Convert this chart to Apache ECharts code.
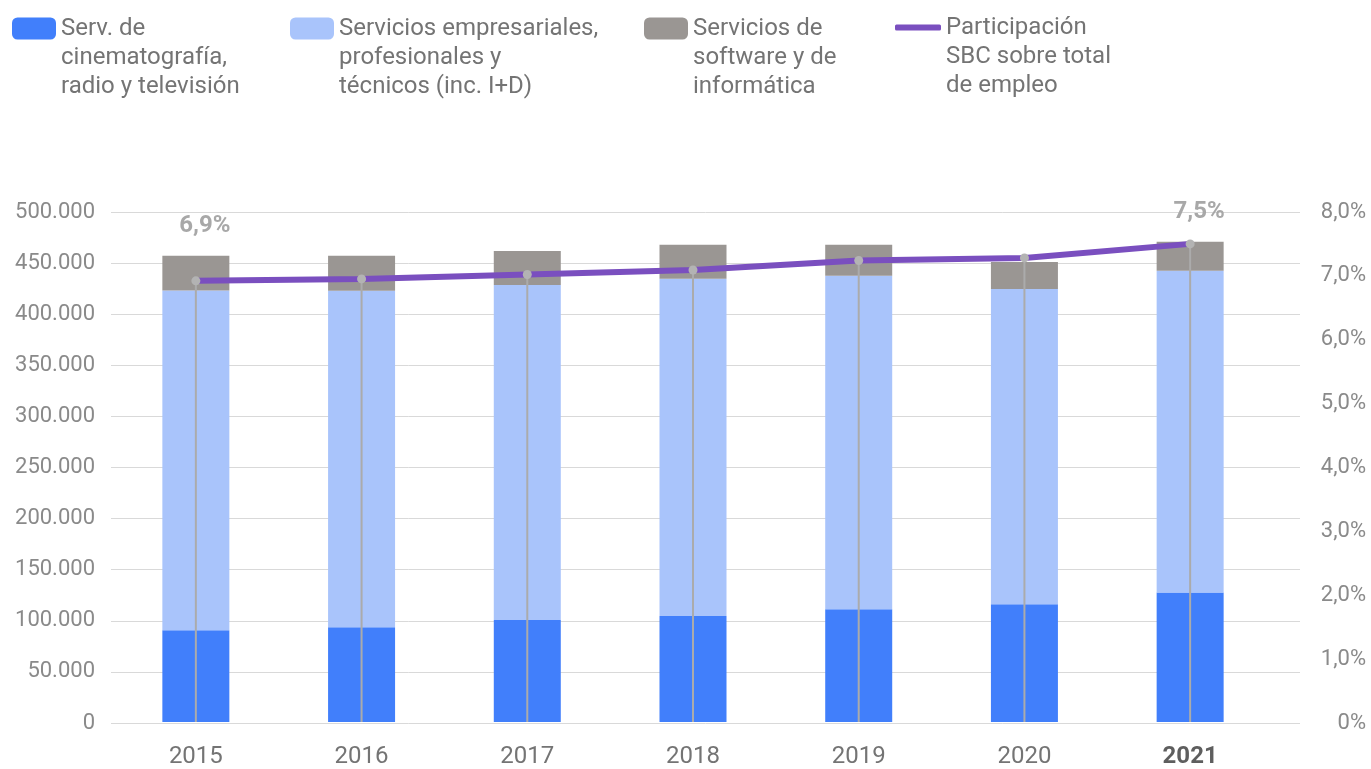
<!DOCTYPE html>
<html>
<head>
<meta charset="utf-8">
<script src="https://cdn.jsdelivr.net/npm/echarts@6/dist/echarts.min.js"></script>
<style>
  html, body { margin: 0; padding: 0; background: #fff; }
  #chart { width: 1371px; height: 769px; }
</style>
</head>
<body>
<div id="chart"></div>
<script>
// Categories (years)
var years = ['2015', '2016', '2017', '2018', '2019', '2020', '2021'];
// Employment by sector (stacked)
var cine = [90000, 93000, 100000, 104000, 110500, 115500, 127000];
var empresariales = [333000, 329700, 328500, 330500, 327000, 309000, 315500];
var software = [34000, 34300, 33300, 33300, 30300, 26400, 28400];
// Share of SBC over total employment (%)
var sbcShare = [6.92, 6.95, 7.02, 7.09, 7.24, 7.28, 7.50];
// Years that carry a share label
var labelledYears = [0, 6];

var seriesNames = [
    'Serv. de\ncinematografía,\nradio y televisión',
    'Servicios empresariales,\nprofesionales y\ntécnicos (inc. I+D)',
    'Servicios de\nsoftware y de\ninformática',
    'Participación\nSBC sobre total\nde empleo'
];

var FONT = 'Roboto';

function thousands(v) {
    return String(v).replace(/\B(?=(\d{3})+(?!\d))/g, '.');
}
function pct(v) {
    return v === 0 ? '0%' : v.toFixed(1).replace('.', ',') + '%';
}

var chart = echarts.init(document.getElementById('chart'));

//One legend per entry so each sits where the original puts it.
//Two blank lines go before the text so the icon lines up with the first line.
function legendAt(left, top, name, extra) {
    var lg = {
        left: left,
        top: top,
        padding: 0,
        itemWidth: 44,
        itemHeight: 22,
        data: [name],
        formatter: function (n) { return '\n\n' + n; },
        textStyle: {
            fontFamily: FONT,
            fontSize: 24,
            color: '#747474',
            lineHeight: 29
        }
    };
    return Object.assign(lg, extra || {});
}

var option = {
    animation: false,
    backgroundColor: '#fff',
    textStyle: { fontFamily: FONT },
    legend: [
        legendAt(12, -44, seriesNames[0]),
        legendAt(290, -44, seriesNames[1]),
        legendAt(644, -44, seriesNames[2]),
        legendAt(895, -45, seriesNames[3], {
            itemWidth: 46,
            itemHeight: 6,
            data: [{ name: seriesNames[3], icon: 'roundRect', itemStyle: { color: '#7a4fbf' } }]
        })
    ],
    grid: [
        //grid 0 carries the tick labels and the horizontal lines
        { left: 111, right: 71, top: 212, bottom: 46 },
        //grid 1 carries the bars and line
        { left: 113, right: 98, top: 212, bottom: 46 }
    ],
    xAxis: [
        { gridIndex: 0, type: 'value', show: false, min: 0, max: 1 },
        {
            gridIndex: 1,
            type: 'category',
            data: years,
            axisLine: { show: false },
            axisTick: { show: false },
            axisLabel: {
                margin: 23,
                fontSize: 24,
                color: '#747474',
                formatter: function (v, i) {
                    return i === years.length - 1 ? '{b|' + v + '}' : v;
                },
                rich: { b: { fontSize: 24, fontWeight: 'bold', color: '#5e5e5e' } }
            }
        },
        { gridIndex: 1, type: 'category', data: years, show: false }
    ],
    yAxis: [
        {
            gridIndex: 0,
            type: 'value',
            min: 0, max: 500000, interval: 50000,
            axisLine: { show: false },
            axisTick: { show: false },
            axisLabel: { margin: 16, fontSize: 22, color: '#8a8a8a', formatter: thousands },
            splitLine: { lineStyle: { color: '#d9d9d9', width: 1 } }
        },
        {
            gridIndex: 0,
            type: 'value',
            position: 'right',
            min: 0, max: 8, interval: 1,
            axisLine: { show: false },
            axisTick: { show: false },
            splitLine: { show: false },
            axisLabel: { margin: 66, align: 'right', fontSize: 22, color: '#8a8a8a', formatter: pct }
        },
        { gridIndex: 1, type: 'value', min: 0, max: 500000, show: false, splitLine: { show: false } },
        { gridIndex: 1, type: 'value', min: 0, max: 8, show: false, splitLine: { show: false } }
    ],
    series: [
        {
            name: seriesNames[0],
            type: 'bar',
            stack: 'empleo',
            xAxisIndex: 1, yAxisIndex: 2,
            barWidth: 67,
            itemStyle: { color: '#417ffb' },
            data: cine
        },
        {
            name: seriesNames[1],
            type: 'bar',
            stack: 'empleo',
            xAxisIndex: 1, yAxisIndex: 2,
            barWidth: 67,
            itemStyle: { color: '#a9c4fb' },
            data: empresariales
        },
        {
            name: seriesNames[2],
            type: 'bar',
            stack: 'empleo',
            xAxisIndex: 1, yAxisIndex: 2,
            barWidth: 67,
            itemStyle: { color: '#9a9693' },
            label: {
                position: 'top',
                distance: 18,
                offset: [9, 0],
                fontSize: 24,
                fontWeight: 'bold',
                color: '#a8a8a8',
                formatter: function (p) { return pct(sbcShare[p.dataIndex]); }
            },
            data: software.map(function (v, i) {
                return { value: v, label: { show: labelledYears.indexOf(i) >= 0 } };
            })
        },
        {
            //thin drop lines from each point of the share line
            name: 'drop',
            type: 'bar',
            xAxisIndex: 2, yAxisIndex: 3,
            barWidth: 2,
            itemStyle: { color: '#ababab' },
            silent: true,
            data: sbcShare
        },
        {
            name: seriesNames[3],
            type: 'line',
            xAxisIndex: 1, yAxisIndex: 3,
            symbol: 'circle',
            symbolSize: 9,
            showSymbol: true,
            lineStyle: { color: '#7a4fbf', width: 6 },
            itemStyle: { color: '#b3b3b3' },
            data: sbcShare
        }
    ]
};

chart.setOption(option);
</script>
</body>
</html>
